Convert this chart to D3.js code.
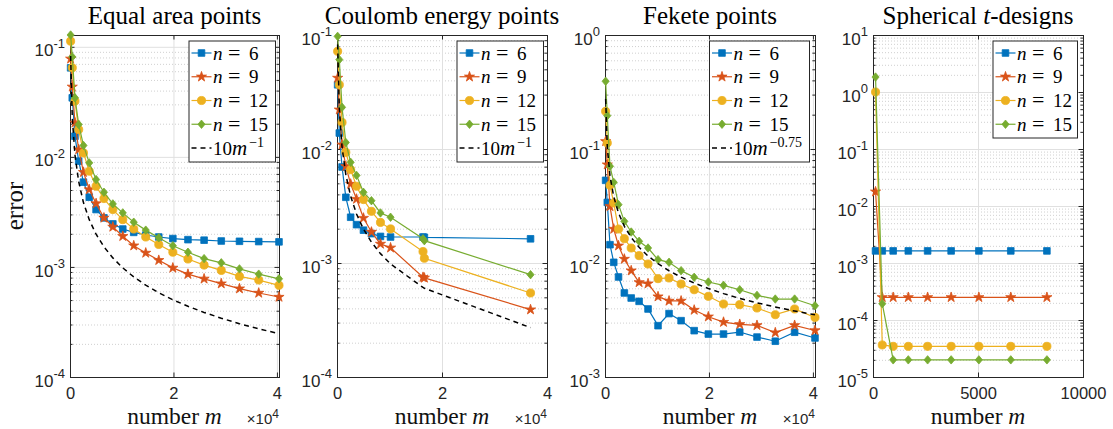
<!DOCTYPE html>
<html><head><meta charset="utf-8">
<script src="https://cdn.jsdelivr.net/npm/d3@7"></script>
<style>body{margin:0;background:#fff}</style>
</head><body><svg id="c" width="1113" height="429"></svg>
<script>
// ---------------- data ----------------
const mEqual = [121,441,961,1681,2601,3721,5041,6561,8281,10201,12321,14641,17161,19881,22801,25921,29241,32761,36481,40401];
const equal6  = [0.0644,0.0344,0.0154,0.00914,0.00589,0.0043,0.00332,0.00279,0.00246,0.00221,0.00206,0.00195,0.00187,0.00181,0.00177,0.00175,0.00172,0.00171,0.0017,0.00169];
const equal9  = [0.0778,0.0433,0.0204,0.01166,0.00726,0.00505,0.00377,0.00279,0.00231,0.0019,0.00156,0.00134,0.00115,0.00098,0.00086,0.00078,0.000705,0.000635,0.00058,0.000533];
const equal12 = [0.1125,0.0644,0.0321,0.0177,0.01086,0.00741,0.00541,0.00418,0.00332,0.00269,0.00221,0.00187,0.0016,0.00136,0.00118,0.00104,0.00093,0.00082,0.00076,0.00068];
const equal15 = [0.128,0.081,0.0344,0.0197,0.0127,0.00882,0.00622,0.00477,0.00374,0.0031,0.00255,0.00216,0.00184,0.00156,0.00136,0.00119,0.00109,0.00096,0.00086,0.00078];
const equalRef = [0.0826,0.02268,0.0104,0.00595,0.003845,0.002687,0.001984,0.001524,0.001208,0.00098,0.000812,0.000683,0.000583,0.000503,0.000439,0.000386,0.000342,0.000305,0.000274,0.0002475];

const mCoulomb = [121,441,961,1681,2601,3721,5041,6561,8281,10201,16384,16641,36864];
const coulomb6  = [0.0366,0.0138,0.00695,0.00377,0.00252,0.00217,0.00194,0.00181,0.00171,0.00169,0.00169,0.00168,0.00163];
const coulomb9  = [0.042,0.0221,0.0109,0.00705,0.00493,0.00364,0.00248,0.00187,0.00147,0.00136,0.00075,0.00074,0.00039];
const coulomb12 = [0.072,0.0366,0.0171,0.00935,0.00659,0.00471,0.0036,0.00284,0.00227,0.00199,0.00126,0.0011,0.000546];
const coulomb15 = [0.0973,0.0608,0.0232,0.0114,0.00764,0.00587,0.00417,0.00352,0.00275,0.00252,0.00163,0.00157,0.00079];
const coulombRef = [0.0826,0.02268,0.0104,0.00595,0.003845,0.002687,0.001984,0.001524,0.001208,0.00098,0.00061,0.000601,0.000271];

const mFekete = [121,441,961,1681,2601,3721,5041,6561,8281,10201,12321,14641,17161,19881,22801,25921,29241,32761,36481,40401];
const fekete6  = [0.0531,0.034,0.01448,0.01014,0.00754,0.00546,0.00493,0.00461,0.00395,0.00282,0.0036,0.00312,0.00255,0.00238,0.00238,0.00248,0.00224,0.00206,0.00247,0.0022];
const fekete9  = [0.1168,0.0729,0.0314,0.01987,0.01418,0.01084,0.00857,0.00676,0.00659,0.00507,0.00465,0.00465,0.00387,0.00338,0.00303,0.0029,0.00284,0.00245,0.00284,0.00256];
const fekete12 = [0.214,0.113,0.048,0.0336,0.01986,0.01634,0.01354,0.0116,0.0098,0.00729,0.00739,0.00654,0.00583,0.0051,0.00437,0.00431,0.00403,0.00352,0.00395,0.00333];
const fekete15 = [0.393,0.196,0.0705,0.051,0.0325,0.0232,0.0187,0.01549,0.01354,0.0107,0.01014,0.00857,0.00749,0.00681,0.00637,0.00583,0.0052,0.00483,0.00483,0.00422];
const feketeRef = [0.274,0.104,0.0579,0.0381,0.02745,0.021,0.01672,0.01372,0.01152,0.00985,0.00855,0.00751,0.00667,0.00597,0.00539,0.00489,0.00447,0.00411,0.00379,0.00351];

const mDesign = [121,441,961,1681,2601,3721,5041,6561,8281];
const design6  = [0.00163,0.00163,0.00163,0.00163,0.00163,0.00163,0.00163,0.00163,0.00163];
const design9  = [0.0178,0.00025,0.00025,0.00025,0.00025,0.00025,0.00025,0.00025,0.00025];
const design12 = [1.0,3.65e-5,3.45e-5,3.45e-5,3.45e-5,3.45e-5,3.45e-5,3.45e-5,3.45e-5];
const design15 = [1.83,1.93e-4,2.0e-5,2.0e-5,2.0e-5,2.0e-5,2.0e-5,2.0e-5,2.0e-5];

const nValues = ["6","9","12","15"];
const titles = ["Equal area points","Coulomb energy points","Fekete points","Spherical t-designs"];
const xTicksBig = [0,20000,40000];
const xTickLabelsBig = ["0","2","4"];
const xTicksDesign = [0,5000,10000];
const xTickLabelsDesign = ["0","5000","10000"];

// ---------------- style / layout ----------------
const colors = ["#0072BD","#D95319","#EDB120","#77AC30"];
const TOP = 35, BOTTOM = 377;
const AX = "#262626";
const SERIF = "'Liberation Serif','Times New Roman',serif";
const SANS = "'Liberation Sans',Arial,Helvetica,sans-serif";

const diamond = {draw(c,s){const r=Math.sqrt(s)/2; c.moveTo(0,-r*1.3); c.lineTo(r*1.1,0); c.lineTo(0,r*1.3); c.lineTo(-r*1.1,0); c.closePath();}};
const markers = [
  d3.symbol().type(d3.symbolSquare).size(44),
  d3.symbol().type(d3.symbolStar).size(32),
  d3.symbol().type(d3.symbolCircle).size(52),
  d3.symbol().type(diamond).size(42)
];

const panels = [
  {left:70, width:209, m:mEqual, series:[equal6,equal9,equal12,equal15], ref:equalRef, refSup:"\u22121",
   xDomain:[0,d3.max(mEqual)], yLow:1e-4, yHigh:d3.max([equal6,equal9,equal12,equal15].flat()),
   xTicks:xTicksBig, xLabels:xTickLabelsBig, exp:true, leg:{l:189,r:275.5,b:162}},
  {left:337, width:210, m:mCoulomb, series:[coulomb6,coulomb9,coulomb12,coulomb15], ref:coulombRef, refSup:"\u22121",
   xDomain:[0,40000], yLow:1e-4, yHigh:1e-1,
   xTicks:xTicksBig, xLabels:xTickLabelsBig, exp:true, leg:{l:457,r:543.5,b:162}},
  {left:605, width:210, m:mFekete, series:[fekete6,fekete9,fekete12,fekete15], ref:feketeRef, refSup:"\u22120.75",
   xDomain:[0,d3.max(mFekete)], yLow:1e-3, yHigh:1,
   xTicks:xTicksBig, xLabels:xTickLabelsBig, exp:true, leg:{l:709.5,r:809.5,b:162}},
  {left:873, width:210, m:mDesign, series:[design6,design9,design12,design15], ref:null,
   xDomain:[0,10000], yLow:1e-5, yHigh:10,
   xTicks:xTicksDesign, xLabels:xTickLabelsDesign, exp:false, leg:{l:993,r:1077.5,b:138}}
];

const svg = d3.select("#c");

function styleAxis(s){ s.select(".domain").remove(); s.attr("font-family",SANS); }

panels.forEach((p,pi)=>{
  const x = d3.scaleLinear().domain(p.xDomain).range([p.left, p.left+p.width]);
  const y = d3.scaleLog().domain([p.yLow,p.yHigh]).range([BOTTOM, TOP]);
  const e0 = Math.round(Math.log10(p.yLow)), e1 = Math.floor(Math.log10(p.yHigh)+1e-9);
  const major = d3.range(e0,e1+1).map(e=>Math.pow(10,e));
  const minor = [];
  for(let e=e0;e<=e1;e++) for(let k=2;k<=9;k++){const v=k*Math.pow(10,e); if(v<=p.yHigh*(1+1e-9)) minor.push(v);}
  const H = BOTTOM-TOP;
  const g = svg.append("g");

  // grids
  g.append("g").attr("transform",`translate(${p.left},0)`)
    .call(d3.axisLeft(y).tickValues(minor).tickSizeInner(-p.width).tickSizeOuter(0).tickFormat(""))
    .call(styleAxis).selectAll("line").attr("stroke","#c4c4c4").attr("stroke-dasharray","1,2").attr("stroke-width",0.8);
  g.append("g").attr("transform",`translate(${p.left},0)`)
    .call(d3.axisLeft(y).tickValues(major).tickSizeInner(-p.width).tickSizeOuter(0).tickFormat(""))
    .call(styleAxis).selectAll("line").attr("stroke","#e0e0e0").attr("stroke-width",1);
  g.append("g").attr("transform",`translate(0,${BOTTOM})`)
    .call(d3.axisBottom(x).tickValues(p.xTicks).tickSizeInner(-H).tickSizeOuter(0).tickFormat(""))
    .call(styleAxis).selectAll("line").attr("stroke","#e0e0e0").attr("stroke-width",1);

  // tick marks (inside)
  const tk = (axis, tr) => g.append("g").attr("transform",tr).call(axis).call(styleAxis).selectAll("line").attr("stroke",AX);
  tk(d3.axisLeft(y).tickValues(major).tickSizeInner(-4.5).tickSizeOuter(0).tickFormat(""), `translate(${p.left},0)`);
  tk(d3.axisLeft(y).tickValues(minor).tickSizeInner(-2.5).tickSizeOuter(0).tickFormat(""), `translate(${p.left},0)`);
  tk(d3.axisRight(y).tickValues(major).tickSizeInner(-4.5).tickSizeOuter(0).tickFormat(""), `translate(${p.left+p.width},0)`);
  tk(d3.axisRight(y).tickValues(minor).tickSizeInner(-2.5).tickSizeOuter(0).tickFormat(""), `translate(${p.left+p.width},0)`);
  tk(d3.axisTop(x).tickValues(p.xTicks).tickSizeInner(-4.5).tickSizeOuter(0).tickFormat(""), `translate(0,${TOP})`);
  const xb = g.append("g").attr("transform",`translate(0,${BOTTOM})`)
    .call(d3.axisBottom(x).tickValues(p.xTicks).tickSizeInner(-4.5).tickSizeOuter(0).tickPadding(10).tickFormat((d,i)=>p.xLabels[i]))
    .call(styleAxis);
  xb.selectAll("line").attr("stroke",AX);
  xb.selectAll("text").attr("font-size",16.5).attr("fill",AX);

  // y tick labels 10^e
  major.forEach(v=>{
    const e = Math.round(Math.log10(v));
    const t = g.append("text").attr("x",p.left-5).attr("y",y(v)+9.6).attr("text-anchor","end")
      .attr("font-family",SANS).attr("font-size",17).attr("fill",AX);
    t.append("tspan").text("10");
    t.append("tspan").attr("font-size",13).attr("dy",-8.5).text(String(e));
  });

  // box
  g.append("rect").attr("x",p.left+0.5).attr("y",TOP+0.5).attr("width",p.width).attr("height",H)
    .attr("fill","none").attr("stroke",AX).attr("stroke-width",1);

  // data
  const line = d3.line().x(d=>x(d[0])).y(d=>y(d[1]));
  p.series.forEach((s,si)=>{
    const pts = p.m.map((m,i)=>[m,s[i]]);
    g.append("path").attr("d",line(pts)).attr("fill","none").attr("stroke",colors[si]).attr("stroke-width",1.2);
    g.append("g").selectAll("path").data(pts).join("path")
      .attr("transform",d=>`translate(${x(d[0])},${y(d[1])})`).attr("d",markers[si])
      .attr("fill",colors[si]).attr("stroke",colors[si]).attr("stroke-width",0.8);
  });
  if(p.ref){
    const pts = p.m.map((m,i)=>[m,p.ref[i]]);
    g.append("path").attr("d",line(pts)).attr("fill","none").attr("stroke","#000").attr("stroke-width",1.5).attr("stroke-dasharray","5,4");
  }

  // title
  const tt = g.append("text").attr("x",p.left+p.width/2).attr("y",24).attr("text-anchor","middle")
    .attr("font-family",SERIF).attr("font-size",25).attr("fill","#000");
  if(titles[pi].includes(" t-")){
    const parts = titles[pi].split(" t-");
    tt.append("tspan").text(parts[0]+" ");
    tt.append("tspan").attr("font-style","italic").text("t");
    tt.append("tspan").text("-"+parts[1]);
  } else tt.text(titles[pi]);

  // x label
  const xl = g.append("text").attr("x",p.left+p.width/2).attr("y",423.5).attr("text-anchor","middle")
    .attr("font-family",SERIF).attr("font-size",23.5).attr("fill","#111");
  xl.append("tspan").text("number ");
  xl.append("tspan").attr("font-style","italic").text("m");

  if(p.exp){
    const ex = g.append("text").attr("x",p.left+p.width).attr("y",424).attr("text-anchor","end")
      .attr("font-family",SANS).attr("font-size",15).attr("fill",AX);
    ex.append("tspan").text("\u00d710");
    ex.append("tspan").attr("font-size",12).attr("dy",-6).text("4");
  }

  // legend
  const L = p.leg.l, R = p.leg.r;
  const rows = p.ref ? 5 : 4;
  const rowY = i => 53 + i*23.75;
  const lg = g.append("g");
  lg.append("rect").attr("x",L).attr("y",41).attr("width",R-L).attr("height",p.leg.b-41)
    .attr("fill","#fff").attr("stroke",AX).attr("stroke-width",1);
  for(let i=0;i<rows;i++){
    const yc = rowY(i);
    const isRef = i===4;
    lg.append("line").attr("x1",L+2.5).attr("x2",L+22.5).attr("y1",yc).attr("y2",yc)
      .attr("stroke",isRef?"#000":colors[i]).attr("stroke-width",isRef?1.5:1.2)
      .attr("stroke-dasharray",isRef?"5,4":null);
    if(!isRef){
      lg.append("path").attr("transform",`translate(${L+12.5},${yc})`).attr("d",markers[i])
        .attr("fill",colors[i]).attr("stroke",colors[i]).attr("stroke-width",0.8);
    }
    const t = lg.append("text").attr("x",L+24).attr("y",yc+6.5).attr("font-family",SERIF).attr("font-size",19).attr("fill","#000");
    if(isRef){
      t.append("tspan").text("10");
      t.append("tspan").attr("font-style","italic").attr("font-size",21).text("m");
      t.append("tspan").attr("font-size",14).attr("dy",-8).attr("dx",2).text(p.refSup);
    } else {
      t.append("tspan").attr("font-style","italic").text("n");
      t.append("tspan").attr("font-size",22).attr("dx",5.5).text("=");
      t.append("tspan").attr("dx",8.5).text(nValues[i]);
    }
  }
});

// y label
svg.append("text").attr("transform","translate(23,206) rotate(-90)").attr("text-anchor","middle")
  .attr("font-family",SERIF).attr("font-size",25).attr("fill","#111").text("error");
</script>
</body></html>
